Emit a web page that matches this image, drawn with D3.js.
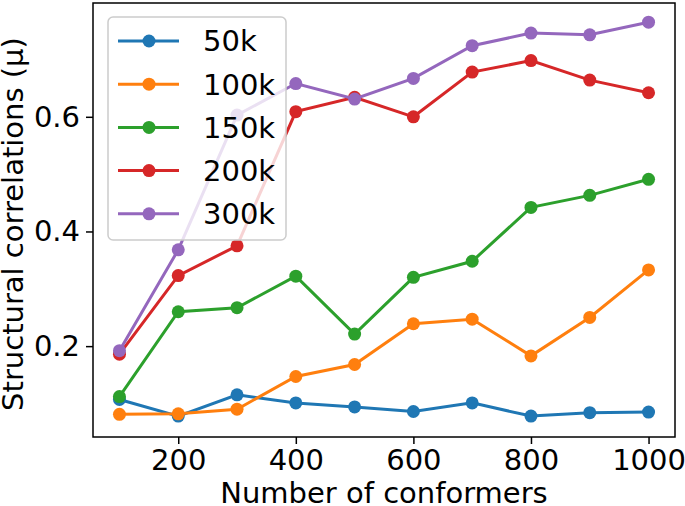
<!DOCTYPE html>
<html>
<head>
<meta charset="utf-8">
<script src="https://cdn.jsdelivr.net/npm/d3@7"></script>
<style>
  body { margin: 0; background: #fff; }
  svg text { font-family: "DejaVu Sans", sans-serif; fill: #000; }
</style>
</head>
<body>
<svg width="685" height="506"></svg>
<script>
// data
var conformers = [100, 200, 300, 400, 500, 600, 700, 800, 900, 1000];
var seriesNames = ["50k", "100k", "150k", "200k", "300k"];
var s50k  = [0.107, 0.078, 0.115, 0.101, 0.094, 0.086, 0.101, 0.078, 0.084, 0.085];
var s100k = [0.081, 0.082, 0.090, 0.147, 0.168, 0.239, 0.247, 0.183, 0.250, 0.333];
var s150k = [0.112, 0.260, 0.267, 0.322, 0.221, 0.320, 0.348, 0.442, 0.463, 0.491];
var s200k = [0.186, 0.323, 0.375, 0.609, 0.634, 0.600, 0.678, 0.698, 0.664, 0.642];
var s300k = [0.192, 0.368, 0.603, 0.658, 0.631, 0.667, 0.724, 0.746, 0.743, 0.765];
var xTicks = [200, 400, 600, 800, 1000];
var yTicks = [0.2, 0.4, 0.6];
var colors = ["#1f77b4", "#ff7f0e", "#2ca02c", "#d62728", "#9467bd"];

var allSeries = [s50k, s100k, s150k, s200k, s300k];

var margin = {left: 93, right: 10, top: 3, bottom: 69};
var width = 685, height = 506;
var fontSize = '29px';

var xScale = d3.scaleLinear()
  .domain([55, 1045])
  .range([margin.left, width - margin.right]);
var yScale = d3.scaleLinear()
  .domain([0.0415, 0.7985])
  .range([height - margin.bottom, margin.top]);

var svg = d3.select('svg');

var xAxis = d3.axisBottom(xScale).tickValues(xTicks).tickSize(7).tickPadding(5)
  .tickFormat(d3.format('d'));
var yAxis = d3.axisLeft(yScale).tickValues(yTicks).tickSize(7).tickPadding(6)
  .tickFormat(d3.format('.1f'));

var gx = svg.append('g')
  .attr('transform', 'translate(0,' + (height - margin.bottom) + ')')
  .call(xAxis);
var gy = svg.append('g')
  .attr('transform', 'translate(' + margin.left + ',0)')
  .call(yAxis);
[gx, gy].forEach(function(g) {
  g.select('.domain').remove();
  g.selectAll('line').attr('stroke', '#000').attr('stroke-width', 1.5);
  g.selectAll('text').style('font-size', fontSize).style('font-family', 'DejaVu Sans');
});

// frame
svg.append('rect')
  .attr('x', margin.left)
  .attr('y', margin.top)
  .attr('width', width - margin.left - margin.right)
  .attr('height', height - margin.top - margin.bottom)
  .attr('fill', 'none')
  .attr('stroke', '#000')
  .attr('stroke-width', 1.5);

var line = d3.line()
  .x(function(d, i) { return xScale(conformers[i]); })
  .y(function(d) { return yScale(d); });

allSeries.forEach(function(s, k) {
  var g = svg.append('g');
  g.append('path')
    .attr('d', line(s))
    .attr('fill', 'none')
    .attr('stroke', colors[k])
    .attr('stroke-width', 3);
  g.selectAll('circle')
    .data(s)
    .enter()
    .append('circle')
    .attr('cx', function(d, i) { return xScale(conformers[i]); })
    .attr('cy', function(d) { return yScale(d); })
    .attr('r', 6.5)
    .attr('fill', colors[k]);
});

// legend
var legend = svg.append('g').attr('transform', 'translate(108,17)');
legend.append('rect')
  .attr('width', 178)
  .attr('height', 223)
  .attr('rx', 5)
  .attr('fill', '#fff')
  .attr('fill-opacity', 0.8)
  .attr('stroke', '#ccc')
  .attr('stroke-width', 1.5);
seriesNames.forEach(function(name, k) {
  var y = 24 + k * 43.2;
  legend.append('line')
    .attr('x1', 10).attr('x2', 71)
    .attr('y1', y).attr('y2', y)
    .attr('stroke', colors[k])
    .attr('stroke-width', 3);
  legend.append('circle')
    .attr('cx', 41).attr('cy', y).attr('r', 6.5)
    .attr('fill', colors[k]);
  legend.append('text')
    .attr('x', 95).attr('y', y)
    .attr('dy', '0.36em')
    .style('font-size', fontSize)
    .text(name);
});

// axis labels
svg.append('text')
  .attr('x', (margin.left + width - margin.right) / 2)
  .attr('y', 503)
  .style('text-anchor', 'middle')
  .style('font-size', fontSize)
  .text('Number of conformers');

svg.append('text')
  .attr('transform', 'rotate(-90)')
  .attr('x', -224)
  .attr('y', 23)
  .style('text-anchor', 'middle')
  .style('font-size', fontSize)
  .text('Structural correlations (μ)');
</script>
</body>
</html>
